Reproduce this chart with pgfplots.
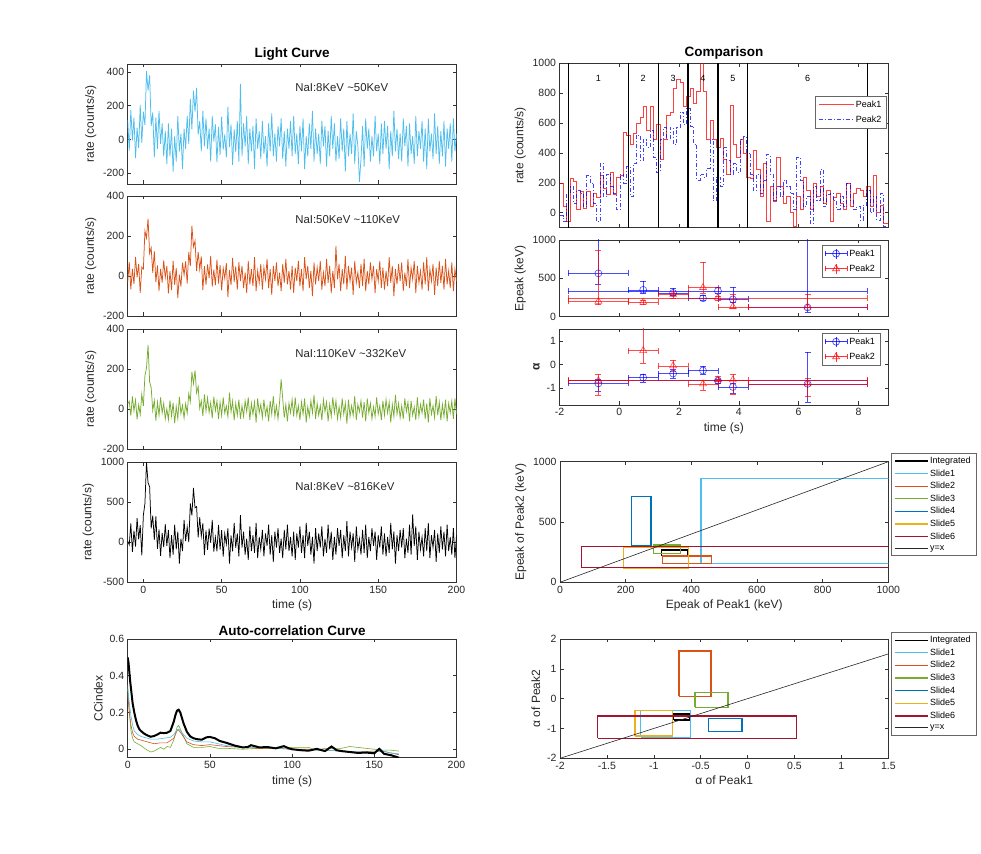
\documentclass[border=0pt]{standalone}
\usepackage{fontspec}
\setmainfont{Liberation Sans}
\usepackage{pgfplots}
\usepackage{pgfplotstable}
\pgfplotsset{compat=1.18}
\definecolor{mBlueL}{RGB}{77,190,238}
\definecolor{mOrange}{RGB}{217,83,25}
\definecolor{mGreen}{RGB}{119,172,48}
\definecolor{mBlue}{RGB}{0,114,189}
\definecolor{mYellow}{RGB}{237,177,32}
\definecolor{mRed}{RGB}{162,20,47}

\pgfplotstableread{
t a b c d
-10 115 -32 28 14
-9 -65 70 40 -31
-8 175 -67 -32 235
-7 -5 36 64 -119
-6 130 -41 -8 146
-5 -110 95 46 -53
-4 70 -7 -50 301
-3 -50 61 22 36
-2 205 -84 -26 213
-1 -20 44 76 -163
0 165 34 16 338
1 85 225 168 484
2 405 190 206 1000
3 290 287 322 745
4 380 112 138 694
5 80 141 108 173
6 160 16 -6 333
7 -105 124 44 32
8 130 -31 -56 323
9 -55 53 36 -83
10 170 -75 -30 161
11 -25 36 60 -171
12 95 -33 -18 116
13 -100 78 30 -61
14 50 -7 -48 227
15 -145 50 2 -44
16 95 -87 -52 155
17 -100 24 44 -199
18 65 -70 -34 88
19 -190 75 32 -155
20 20 -44 -70 221
21 -130 41 14 -88
22 140 -111 -46 133
23 -70 7 62 -265
24 35 -53 -22 44
25 -175 67 20 -111
26 65 5 -44 279
27 -55 73 28 14
28 140 -38 -20 191
29 -25 120 78 3
30 240 49 38 485
31 60 251 186 337
32 290 146 128 680
33 165 176 194 432
34 305 25 82 446
35 30 121 114 61
36 110 33 4 313
37 -70 98 42 76
38 170 -70 -33 237
39 -40 49 75 -161
40 125 -44 -9 148
41 -55 58 57 -95
42 65 -11 -15 171
43 -130 100 33 -6
44 140 -53 -45 281
45 -10 32 63 -117
46 90 -46 -7 64
47 -135 82 41 -113
48 75 -38 -49 219
49 -90 56 35 -91
50 135 -72 -31 153
51 -60 39 59 -179
52 30 -12 -19 108
53 -105 64 17 -24
54 195 -106 -37 175
55 -45 30 83 -267
56 90 -46 -13 86
57 -150 90 41 -113
58 60 -29 -55 241
59 -75 48 29 -68
60 110 -68 -30 111
61 -130 68 48 -177
62 330 -26 -48 340
63 -100 51 18 -66
64 95 -60 -36 133
65 -40 17 42 -155
66 140 -85 -12 44
67 -145 75 60 -221
68 65 -42 -54 199
69 -70 34 30 -111
70 80 -51 -24 88
71 -175 94 36 -133
72 125 -75 -66 243
73 -55 26 54 -199
74 50 -34 -18 66
75 -115 60 24 -88
76 110 -68 -42 155
77 -85 42 48 -177
78 20 -17 -30 111
79 -160 85 12 -44
80 95 -60 -60 221
81 -70 34 42 -155
82 155 -94 -24 88
83 -100 51 66 -243
84 35 -26 -36 133
85 -130 68 18 -66
86 80 -51 -48 177
87 -40 17 36 -133
88 125 -75 150 44
89 -115 60 54 -199
90 50 -34 -42 155
91 -160 85 24 -88
92 65 -42 -60 221
93 -55 26 30 -111
94 110 -68 -18 66
95 -100 51 48 -177
96 140 -85 -36 133
97 -85 42 60 -221
98 35 -26 -30 111
99 -145 75 18 -66
100 80 -51 -54 199
101 -70 34 36 -133
102 125 -75 -24 88
103 -175 94 54 -199
104 20 -17 -66 243
105 -100 51 12 -44
106 95 -60 -36 133
107 -55 26 42 -155
108 170 -101 -18 66
109 -130 68 72 -265
110 65 -42 -48 177
111 -85 42 30 -111
112 35 -26 -30 111
113 -145 75 18 -66
114 110 -68 -54 199
115 -40 17 48 -177
116 80 -51 -12 44
117 -160 85 36 -133
118 50 -34 -60 221
119 -100 51 24 -88
120 140 -85 -36 133
121 -55 26 60 -221
122 95 -60 -18 66
123 -130 150 42 -155
124 20 -17 -48 177
125 -115 60 12 -44
126 125 -75 -42 155
127 -70 34 54 -199
128 65 -42 -24 88
129 -190 101 30 -111
130 110 -68 -72 265
131 -100 51 48 -177
132 35 -26 -36 133
133 -85 42 18 -66
134 155 -94 -30 111
135 -145 75 66 -243
136 50 -34 -54 199
137 -40 17 24 -88
138 -250 -60 -12 44
139 -115 60 42 -155
140 80 -51 -42 155
141 -160 85 36 -133
142 125 -75 -60 221
143 -55 26 54 -199
144 65 -42 -18 66
145 -130 68 30 -111
146 20 -17 -48 177
147 -100 51 12 -44
148 140 -85 -36 133
149 -70 34 60 -221
150 35 -26 -24 88
151 -145 75 18 -66
152 95 -60 -54 199
153 -85 42 42 -155
154 110 -68 -30 111
155 -55 26 48 -177
156 80 -51 -18 66
157 -175 94 36 -133
158 50 -34 -66 243
159 -100 51 24 -88
160 170 -101 -36 133
161 -70 34 72 -265
162 65 -42 -24 88
163 -115 60 30 -111
164 35 -26 -42 155
165 -130 68 18 -66
166 125 -75 -48 177
167 -40 17 54 -199
168 80 -51 -12 44
169 -160 85 36 -133
170 95 -60 -60 221
171 -85 42 42 -155
172 20 -17 -30 350
173 -145 75 12 -44
174 140 -85 -54 199
175 -100 51 60 -221
176 50 -34 -36 133
177 -55 26 24 -88
178 110 -68 -18 66
179 -130 68 48 -177
180 65 -42 -48 177
181 -175 94 30 -111
182 125 -75 -66 243
183 -70 34 54 -199
184 35 -26 -24 88
185 -115 60 18 -66
186 155 -94 -42 155
187 -85 42 66 -243
188 80 -51 -30 111
189 -145 75 36 -133
190 50 -34 -54 199
191 -100 51 24 -88
192 110 -68 -36 133
193 -160 85 48 -177
194 65 -42 -60 221
195 -55 26 30 -111
196 95 -60 -18 66
197 -130 68 42 -155
198 125 -75 -48 177
199 -70 34 54 -199
200 35 -26 -24 88
}\lcdata

\pgfplotstableread{
t r b
-1.980 200 -20
-1.869 40 -60
-1.757 -60 130
-1.646 230 175
-1.534 210 60
-1.423 20 150
-1.311 140 130
-1.200 30 40
-1.088 140 250
-0.977 40 200
-0.865 130 60
-0.754 100 -60
-0.642 250 330
-0.531 160 110
-0.419 120 260
-0.308 270 175
-0.196 120 130
-0.085 240 20
0.027 250 260
0.139 540 200
0.250 520 310
0.362 460 110
0.473 530 330
0.585 600 520
0.696 640 350
0.808 710 490
0.919 550 440
1.031 710 550
1.142 490 370
1.254 590 270
1.365 360 490
1.477 490 570
1.588 650 490
1.700 675 570
1.811 830 460
1.923 890 570
2.034 870 675
2.146 710 590
2.257 780 700
2.369 830 580
2.480 730 460
2.592 810 220
2.703 1050 260
2.815 810 240
2.926 490 300
3.038 620 490
3.149 490 80
3.261 440 240
3.372 500 175
3.484 360 440
3.595 260 350
3.707 720 260
3.818 460 330
3.930 370 270
4.041 490 490
4.153 400 510
4.264 240 400
4.376 230 260
4.487 420 150
4.599 290 260
4.710 110 130
4.822 330 220
4.933 -60 390
5.045 175 260
5.156 75 80
5.268 370 175
5.379 175 110
5.491 60 220
5.602 110 175
5.714 0 130
5.825 -90 20
5.937 110 370
6.048 20 220
6.160 240 40
6.271 150 110
6.383 20 -70
6.494 200 175
6.606 110 80
6.717 175 290
6.829 60 40
6.940 150 120
7.052 -60 130
7.163 100 80
7.275 130 20
7.386 60 110
7.498 20 40
7.609 200 200
7.721 40 80
7.832 130 20
7.944 160 40
8.055 150 -50
8.167 110 50
8.278 175 150
8.390 40 0
8.501 250 110
8.613 0 -50
8.724 50 130
8.836 -70 -90
8.947 -70 -90
9.060 -70 -90
}\cmpdata

\pgfplotsset{
  mat/.style={
    scale only axis,
    axis line style={draw=black!80, line width=0.5pt},
    tick style={draw=black!80, line width=0.5pt},
    major tick length=3.5pt,
    tick align=inside,
    ticklabel style={font=\fontsize{10.5}{12}\selectfont, text=black!85},
    label style={font=\fontsize{12}{14}\selectfont, text=black!85},
    title style={font=\bfseries\fontsize{13.5}{16}\selectfont, yshift=-6pt},
    legend cell align=left,
    legend style={draw=black!60, fill=white, font=\fontsize{9}{10}\selectfont,
      inner xsep=3pt, inner ysep=2pt, row sep=2.5pt},
  },
  lc/.style={mat, anchor=south west, width=328.8pt, height=120pt,
    xmin=-10, xmax=200, xtick={0,50,100,150,200}, xticklabels={},
    ylabel={rate (counts/s)}},
  rectleg/.style={legend image code/.code={\draw[##1] (0pt,0pt) -- (33pt,0pt);},
    legend style={row sep=0.6pt, inner ysep=2pt}},
}

\begin{document}
\begin{tikzpicture}
\path[use as bounding box] (0pt,0pt) rectangle (981pt,853pt);

% ---------- Light curve 1
\begin{axis}[lc, at={(127.7pt,669pt)}, ymin=-263, ymax=447,
  ytick={-200,0,200,400}, yticklabels={-200,0,200,400}, title={Light Curve}]
\addplot[mBlueL, line width=0.75pt] table[x=t,y=a] {\lcdata};
\node[anchor=west, font=\fontsize{11.4}{13}\selectfont, text=black!85] at (rel axis cs:0.499,0.8) {NaI:8KeV \textasciitilde50KeV};
\end{axis}

% ---------- Light curve 2
\begin{axis}[lc, at={(127.7pt,537pt)}, ymin=-200, ymax=400,
  ytick={-200,0,200,400}, yticklabels={-200,0,200,400}]
\addplot[mOrange, line width=0.75pt] table[x=t,y=b] {\lcdata};
\node[anchor=west, font=\fontsize{11.4}{13}\selectfont, text=black!85] at (rel axis cs:0.499,0.8) {NaI:50KeV \textasciitilde110KeV};
\end{axis}

% ---------- Light curve 3
\begin{axis}[lc, at={(127.7pt,403.7pt)}, ymin=-200, ymax=400,
  ytick={-200,0,200,400}, yticklabels={-200,0,200,400}]
\addplot[mGreen, line width=0.75pt] table[x=t,y=c] {\lcdata};
\node[anchor=west, font=\fontsize{11.4}{13}\selectfont, text=black!85] at (rel axis cs:0.499,0.8) {NaI:110KeV \textasciitilde332KeV};
\end{axis}

% ---------- Light curve 4
\begin{axis}[lc, at={(127.7pt,270.7pt)}, ymin=-500, ymax=1000,
  ytick={-500,0,500,1000}, yticklabels={-500,0,500,1000},
  xticklabels={0,50,100,150,200}, xlabel={time (s)}]
\addplot[black, line width=0.75pt] table[x=t,y=d] {\lcdata};
\node[anchor=west, font=\fontsize{11.4}{13}\selectfont, text=black!85] at (rel axis cs:0.499,0.8) {NaI:8KeV \textasciitilde816KeV};
\end{axis}

% ---------- Auto-correlation
\begin{axis}[mat, anchor=south west, at={(127.7pt,95.3pt)}, width=328.8pt, height=118.7pt,
  xmin=0, xmax=200, ymin=-0.046, ymax=0.6,
  xtick={0,50,100,150,200}, xticklabels={0,50,100,150,200},
  ytick={0,0.2,0.4,0.6}, yticklabels={0,0.2,0.4,0.6},
  xlabel={time (s)}, ylabel={CCindex}, title={Auto-correlation Curve}]
\addplot[mGreen, line width=0.6pt] coordinates {(0,0.35)(1,0.2)(2,0.1)(3,0.06)(4,0.04)(6,0.03)(8,0.02)(11,0.0)(14,-0.015)(16,-0.01)(18,0.0)(20,0.01)(22,0.0)(24,0.015)(26,0.01)(28,0.05)(30,0.12)(31,0.13)(33,0.09)(36,0.03)(40,0.01)(45,0.01)(50,0.015)(55,0.005)(60,0.005)(70,0.0)(80,0.005)(90,0.005)(100,0.01)(110,0.01)(115,-0.005)(120,0.005)(130,0.005)(135,0.015)(140,0.01)(145,0.005)(150,0.0)(155,-0.005)(160,-0.005)(165,-0.01)};
\addplot[mOrange, line width=0.6pt] coordinates {(0,0.30)(1,0.2)(2,0.13)(3,0.09)(4,0.07)(6,0.055)(8,0.05)(12,0.04)(16,0.03)(20,0.035)(24,0.035)(28,0.06)(30,0.10)(31,0.105)(33,0.08)(36,0.04)(40,0.025)(45,0.02)(50,0.025)(55,0.02)(60,0.015)(70,0.01)(80,0.005)(90,0.005)(100,0.0)(110,0.0)(120,-0.005)(130,-0.01)(140,-0.015)(150,-0.01)(155,-0.01)(160,-0.02)(165,-0.03)};
\addplot[mBlueL, line width=0.6pt] coordinates {(0,0.33)(1,0.25)(2,0.18)(3,0.13)(4,0.10)(6,0.08)(8,0.07)(10,0.065)(14,0.055)(18,0.055)(22,0.06)(26,0.065)(28,0.08)(30,0.105)(31,0.11)(33,0.09)(36,0.06)(40,0.045)(45,0.04)(50,0.04)(55,0.03)(60,0.02)(70,0.01)(80,0.01)(90,0.005)(100,0.0)(110,-0.005)(120,-0.005)(130,-0.01)(140,-0.015)(150,-0.015)(155,-0.01)(160,-0.02)(165,-0.025)};
\addplot[black, line width=2pt] coordinates {(0,0.50)(0.5,0.47)(1,0.42)(1.5,0.37)(2,0.33)(3,0.25)(4,0.20)(5,0.16)(6,0.13)(7,0.11)(8,0.10)(10,0.085)(12,0.075)(14,0.068)(16,0.072)(18,0.08)(20,0.09)(22,0.088)(24,0.09)(26,0.10)(28,0.15)(29,0.185)(30,0.21)(31,0.215)(32,0.20)(33,0.17)(34,0.14)(36,0.095)(38,0.07)(40,0.06)(42,0.055)(45,0.052)(48,0.065)(50,0.067)(53,0.06)(56,0.045)(60,0.035)(65,0.02)(70,0.01)(73,0.012)(75,0.022)(78,0.015)(80,0.01)(85,0.012)(90,0.005)(95,0.017)(98,0.005)(100,0.0)(105,-0.005)(110,-0.008)(115,0.002)(120,-0.01)(124,0.015)(127,-0.005)(130,-0.01)(135,-0.015)(140,-0.02)(145,-0.018)(150,-0.022)(153,0.002)(156,-0.025)(160,-0.032)(165,-0.046)};
\end{axis}

% ---------- Comparison
\begin{axis}[mat, anchor=south west, at={(559.5pt,625.3pt)}, width=328.8pt, height=164.4pt,
  xmin=-2, xmax=9, ymin=-100, ymax=1000,
  xtick={-2,0,2,4,6,8}, xticklabels={},
  ytick={0,200,400,600,800,1000}, yticklabels={0,200,400,600,800,1000},
  ylabel={rate (counts/s)}, title={Comparison},
  legend style={at={(0.995,0.801)}, anchor=north east, row sep=3pt, inner ysep=2.5pt},
  legend image code/.code={\draw[#1] (0pt,0pt) -- (35pt,0pt);}]
\addplot[red, opacity=0.75, line width=0.7pt, const plot] table[x=t,y=r] {\cmpdata};
\addlegendentry{Peak1}
\addplot[blue, opacity=0.75, line width=0.7pt, const plot, dash pattern=on 4pt off 2pt on 1pt off 2pt] table[x=t,y=b] {\cmpdata};
\addlegendentry{Peak2}
\addplot[black, line width=1.2pt, forget plot] coordinates {(-1.7,-100)(-1.7,1000)};
\addplot[black, line width=1.2pt, forget plot] coordinates {(0.3,-100)(0.3,1000)};
\addplot[black, line width=1.2pt, forget plot] coordinates {(1.3,-100)(1.3,1000)};
\addplot[black, line width=1.2pt, forget plot] coordinates {(2.3,-100)(2.3,1000)};
\addplot[black, line width=1.2pt, forget plot] coordinates {(3.3,-100)(3.3,1000)};
\addplot[black, line width=1.2pt, forget plot] coordinates {(4.3,-100)(4.3,1000)};
\addplot[black, line width=1.2pt, forget plot] coordinates {(8.3,-100)(8.3,1000)};
\node[font=\fontsize{9}{10}\selectfont] at (axis cs:-0.7,900) {1};
\node[font=\fontsize{9}{10}\selectfont] at (axis cs:0.8,900) {2};
\node[font=\fontsize{9}{10}\selectfont] at (axis cs:1.8,900) {3};
\node[font=\fontsize{9}{10}\selectfont] at (axis cs:2.8,900) {4};
\node[font=\fontsize{9}{10}\selectfont] at (axis cs:3.8,900) {5};
\node[font=\fontsize{9}{10}\selectfont] at (axis cs:6.3,900) {6};
\end{axis}

% ---------- Epeak vs time
\begin{axis}[mat, anchor=south west, at={(559.5pt,536.3pt)}, width=328.8pt, height=76.7pt,
  xmin=-2, xmax=9, ymin=0, ymax=1000,
  xtick={-2,0,2,4,6,8}, xticklabels={},
  ytick={0,500,1000}, yticklabels={0,500,1000},
  ylabel={Epeak (keV)},
  legend style={at={(0.975,0.935)}, anchor=north east, row sep=3pt, inner ysep=2.5pt}]
\addplot[blue, opacity=0.7, only marks, mark=o, mark size=3.5pt, line width=0.6pt,
  error bars/.cd, x dir=both, x explicit, y dir=both, y explicit,
  error mark options={rotate=90, mark size=3pt}]
  coordinates {
  (-0.7,565) += (1,935) -= (1,145)
  (0.8,350) += (0.5,112) -= (0.5,38)
  (1.8,310) += (0.5,58) -= (0.5,26)
  (2.8,240) += (0.5,37) -= (0.5,22)
  (3.3,335) += (5,53) -= (5,25)
  (3.8,225) += (0.5,166) -= (0.5,32)
  (6.3,120) += (2,1000) -= (2,55)
  };
\addlegendimage{legend image code/.code={
  \draw[blue, opacity=0.8, line width=0.6pt] (0pt,0pt) -- (22pt,0pt);
  \draw[blue, opacity=0.8, line width=0.6pt] (0pt,-2.5pt) -- (0pt,2.5pt);
  \draw[blue, opacity=0.8, line width=0.6pt] (22pt,-2.5pt) -- (22pt,2.5pt);
  \draw[blue, opacity=0.8, line width=0.6pt] (11pt,-5pt) -- (11pt,5pt);
  \draw[blue, opacity=0.8, line width=0.6pt] (11pt,0pt) circle (3.5pt);}}
\addplot[red, opacity=0.7, only marks, mark=triangle, mark size=4pt, line width=0.6pt,
  error bars/.cd, x dir=both, x explicit, y dir=both, y explicit,
  error mark options={rotate=90, mark size=3pt}]
  coordinates {
  (-0.7,200) += (1,662) -= (1,43)
  (0.8,190) += (0.5,28) -= (0.5,33)
  (1.8,290) += (0.5,19) -= (0.5,50)
  (2.8,380) += (0.5,330) -= (0.5,76)
  (3.3,245) += (5,23) -= (5,27)
  (3.8,130) += (0.5,157) -= (0.5,14)
  (6.3,125) += (2,171) -= (2,1)
  };
\addlegendimage{legend image code/.code={
  \draw[red, opacity=0.8, line width=0.6pt] (0pt,0pt) -- (22pt,0pt);
  \draw[red, opacity=0.8, line width=0.6pt] (0pt,-2.5pt) -- (0pt,2.5pt);
  \draw[red, opacity=0.8, line width=0.6pt] (22pt,-2.5pt) -- (22pt,2.5pt);
  \draw[red, opacity=0.8, line width=0.6pt] (11pt,-5pt) -- (11pt,5pt);
  \draw[red, opacity=0.8, line width=0.6pt] (11pt,4pt) -- (14.5pt,-2pt) -- (7.5pt,-2pt) -- cycle;}}
\legend{,Peak1,,Peak2}
\end{axis}

% ---------- alpha vs time
\begin{axis}[mat, anchor=south west, at={(559.5pt,448pt)}, width=328.8pt, height=76pt,
  xmin=-2, xmax=9, ymin=-1.72, ymax=1.52,
  xtick={-2,0,2,4,6,8}, xticklabels={-2,0,2,4,6,8},
  ytick={-1,0,1}, yticklabels={-1,0,1},
  xlabel={time (s)}, ylabel={\textbf{α}},
  legend style={at={(0.975,0.947)}, anchor=north east, row sep=3pt, inner ysep=2.5pt}]
\addplot[blue, opacity=0.7, only marks, mark=o, mark size=3.5pt, line width=0.6pt,
  error bars/.cd, x dir=both, x explicit, y dir=both, y explicit,
  error mark options={rotate=90, mark size=3pt}]
  coordinates {
  (-0.7,-0.80) += (1,0.19) -= (1,0.34)
  (0.8,-0.55) += (0.5,0.16) -= (0.5,0.18)
  (1.8,-0.38) += (0.5,0.17) -= (0.5,0.18)
  (2.8,-0.25) += (0.5,0.19) -= (0.5,0.17)
  (3.3,-0.68) += (5,0.06) -= (5,0.11)
  (3.8,-0.95) += (0.5,0.15) -= (0.5,0.25)
  (6.3,-0.82) += (2,1.34) -= (2,0.78)
  };
\addlegendimage{legend image code/.code={
  \draw[blue, opacity=0.8, line width=0.6pt] (0pt,0pt) -- (22pt,0pt);
  \draw[blue, opacity=0.8, line width=0.6pt] (0pt,-2.5pt) -- (0pt,2.5pt);
  \draw[blue, opacity=0.8, line width=0.6pt] (22pt,-2.5pt) -- (22pt,2.5pt);
  \draw[blue, opacity=0.8, line width=0.6pt] (11pt,-5pt) -- (11pt,5pt);
  \draw[blue, opacity=0.8, line width=0.6pt] (11pt,0pt) circle (3.5pt);}}
\addplot[red, opacity=0.7, only marks, mark=triangle, mark size=4pt, line width=0.6pt,
  error bars/.cd, x dir=both, x explicit, y dir=both, y explicit,
  error mark options={rotate=90, mark size=3pt}]
  coordinates {
  (-0.7,-0.68) += (1,0.28) -= (1,0.62)
  (0.8,0.60) += (0.5,1.0) -= (0.5,0.52)
  (1.8,-0.05) += (0.5,0.26) -= (0.5,0.24)
  (2.8,-0.82) += (0.5,0.15) -= (0.5,0.27)
  (3.3,-0.65) += (5,0.14) -= (5,0.07)
  (3.8,-0.65) += (0.5,0.25) -= (0.5,0.60)
  (6.3,-0.82) += (2,0.24) -= (2,0.51)
  };
\addlegendimage{legend image code/.code={
  \draw[red, opacity=0.8, line width=0.6pt] (0pt,0pt) -- (22pt,0pt);
  \draw[red, opacity=0.8, line width=0.6pt] (0pt,-2.5pt) -- (0pt,2.5pt);
  \draw[red, opacity=0.8, line width=0.6pt] (22pt,-2.5pt) -- (22pt,2.5pt);
  \draw[red, opacity=0.8, line width=0.6pt] (11pt,-5pt) -- (11pt,5pt);
  \draw[red, opacity=0.8, line width=0.6pt] (11pt,4pt) -- (14.5pt,-2pt) -- (7.5pt,-2pt) -- cycle;}}
\legend{,Peak1,,Peak2}
\end{axis}

% ---------- Epeak scatter
\begin{axis}[mat, rectleg, anchor=south west, at={(560pt,270.7pt)}, width=328.3pt, height=120.6pt,
  xmin=0, xmax=1000, ymin=0, ymax=1000,
  xtick={0,200,400,600,800,1000}, xticklabels={0,200,400,600,800,1000},
  ytick={0,500,1000}, yticklabels={0,500,1000},
  xlabel={Epeak of Peak1 (keV)}, ylabel={Epeak of Peak2 (keV)},
  legend style={at={(1.0073,1.0746)}, anchor=north west}]
\addplot[black, line width=1.3pt] coordinates {(310,218)(388,218)(388,268)(310,268)(310,218)};
\addlegendentry{Integrated}
\addplot[mBlueL, line width=1.3pt] coordinates {(429,157)(1500,157)(1500,862)(429,862)(429,157)};
\addlegendentry{Slide1}
\addplot[mOrange, line width=1.3pt] coordinates {(312,157)(462,157)(462,218)(312,218)(312,157)};
\addlegendentry{Slide2}
\addplot[mGreen, line width=1.3pt] coordinates {(284,240)(368,240)(368,309)(284,309)(284,240)};
\addlegendentry{Slide3}
\addplot[mBlue, line width=1.3pt] coordinates {(218,304)(277,304)(277,710)(218,710)(218,304)};
\addlegendentry{Slide4}
\addplot[mYellow, line width=1.3pt] coordinates {(193,116)(391,116)(391,287)(193,287)(193,116)};
\addlegendentry{Slide5}
\addplot[mRed, line width=1.3pt] coordinates {(65,124)(1500,124)(1500,296)(65,296)(65,124)};
\addlegendentry{Slide6}
\addplot[black!85, line width=0.6pt] coordinates {(0,0)(1000,1000)};
\addlegendentry{y=x}
\end{axis}

% ---------- alpha scatter
\begin{axis}[mat, rectleg, anchor=south west, at={(560pt,94.7pt)}, width=328.3pt, height=119.3pt,
  xmin=-2, xmax=1.5, ymin=-2, ymax=2,
  xtick={-2,-1.5,-1,-0.5,0,0.5,1,1.5}, xticklabels={-2,-1.5,-1,-0.5,0,0.5,1,1.5},
  ytick={-2,-1,0,1,2}, yticklabels={-2,-1,0,1,2},
  xlabel={α of Peak1}, ylabel={α of Peak2},
  legend style={at={(1.0073,1.0587)}, anchor=north west}]
\addplot[black, line width=1.3pt] coordinates {(-0.79,-0.72)(-0.62,-0.72)(-0.62,-0.51)(-0.79,-0.51)(-0.79,-0.72)};
\addlegendentry{Integrated}
\addplot[mBlueL, line width=1.3pt] coordinates {(-1.14,-1.30)(-0.61,-1.30)(-0.61,-0.40)(-1.14,-0.40)(-1.14,-1.30)};
\addlegendentry{Slide1}
\addplot[mOrange, line width=1.3pt] coordinates {(-0.73,0.08)(-0.39,0.08)(-0.39,1.60)(-0.73,1.60)(-0.73,0.08)};
\addlegendentry{Slide2}
\addplot[mGreen, line width=1.3pt] coordinates {(-0.56,-0.29)(-0.21,-0.29)(-0.21,0.21)(-0.56,0.21)(-0.56,-0.29)};
\addlegendentry{Slide3}
\addplot[mBlue, line width=1.3pt] coordinates {(-0.42,-1.09)(-0.06,-1.09)(-0.06,-0.67)(-0.42,-0.67)(-0.42,-1.09)};
\addlegendentry{Slide4}
\addplot[mYellow, line width=1.3pt] coordinates {(-1.20,-1.25)(-0.80,-1.25)(-0.80,-0.40)(-1.20,-0.40)(-1.20,-1.25)};
\addlegendentry{Slide5}
\addplot[mRed, line width=1.3pt] coordinates {(-1.60,-1.33)(0.52,-1.33)(0.52,-0.58)(-1.60,-0.58)(-1.60,-1.33)};
\addlegendentry{Slide6}
\addplot[black!85, line width=0.6pt] coordinates {(-2,-2)(1.5,1.5)};
\addlegendentry{y=x}
\end{axis}
\end{tikzpicture}
\end{document}
